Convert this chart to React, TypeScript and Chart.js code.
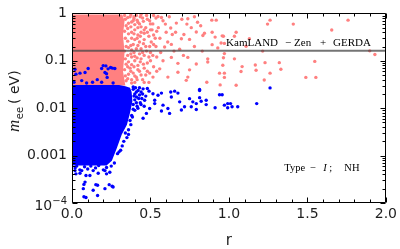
import React, { useEffect, useRef } from 'react';
import { Chart, registerables } from 'chart.js';

Chart.register(...registerables);

// ---------- axis ticks ----------
const xTickValues = [0, 0.5, 1.0, 1.5, 2.0];
const yTickValues = [1e-4, 1e-3, 1e-2, 1e-1, 1];
const yTickLabels = ['', '0.001', '0.01', '0.1', '1'];

// ---------- KamLAND-Zen + GERDA bound (eV) ----------
const kamlandZenGerdaLimit = 0.162;
const limitRangeR = [0, 2];

// ---------- dense pink cloud (outline of the solid region) ----------
const pinkDenseOutline: [number, number][] = [
  [0, 0.95], [0.32, 0.95], [0.335, 0.7], [0.325, 0.35], [0.335, 0.15],
  [0.325, 0.06], [0.34, 0.03], [0, 0.03],
];

// ---------- sparse pink points ----------
const pinkBand: [number, number][] = [
  [0.37, 0.85], [0.39, 0.7], [0.41, 0.9], [0.43, 0.6], [0.45, 0.8], [0.47, 0.5],
  [0.40, 0.45], [0.42, 0.35], [0.44, 0.4], [0.38, 0.3], [0.46, 0.28], [0.49, 0.33],
  [0.50, 0.6], [0.52, 0.9], [0.51, 0.45], [0.39, 0.22], [0.41, 0.18], [0.43, 0.25],
  [0.45, 0.15], [0.47, 0.2], [0.49, 0.12], [0.38, 0.12], [0.40, 0.1], [0.42, 0.08],
  [0.44, 0.11], [0.46, 0.07], [0.48, 0.09], [0.50, 0.15], [0.52, 0.22], [0.37, 0.07],
  [0.39, 0.055], [0.41, 0.045], [0.43, 0.06], [0.45, 0.04], [0.47, 0.05], [0.49, 0.035],
  [0.38, 0.04], [0.40, 0.035], [0.53, 0.3], [0.54, 0.12], [0.55, 0.5], [0.48, 0.75],
  [0.42, 0.65], [0.395, 0.85], [0.44, 0.95], [0.46, 0.38], [0.505, 0.25], [0.43, 0.14],
];
const pinkEdge: [number, number][] = [
  [0.335, 0.9], [0.34, 0.75], [0.345, 0.55], [0.335, 0.42], [0.34, 0.3], [0.345, 0.2],
  [0.335, 0.16], [0.34, 0.11], [0.345, 0.085], [0.335, 0.065], [0.34, 0.048], [0.345, 0.038],
  [0.355, 0.82], [0.36, 0.62], [0.355, 0.48], [0.36, 0.37], [0.355, 0.26], [0.36, 0.19],
  [0.355, 0.13], [0.36, 0.095], [0.355, 0.075], [0.36, 0.052], [0.355, 0.042],
  [0.375, 0.93], [0.38, 0.66], [0.375, 0.52], [0.38, 0.4], [0.375, 0.21], [0.38, 0.17],
  [0.375, 0.14], [0.38, 0.083], [0.375, 0.06], [0.38, 0.034],
  [0.395, 0.78], [0.40, 0.58], [0.395, 0.37], [0.40, 0.28], [0.395, 0.15], [0.40, 0.125],
  [0.395, 0.075], [0.40, 0.048],
  [0.415, 0.72], [0.42, 0.5], [0.415, 0.3], [0.42, 0.21], [0.415, 0.115], [0.42, 0.065], [0.415, 0.04],
  [0.435, 0.85], [0.44, 0.52], [0.435, 0.33], [0.44, 0.18], [0.435, 0.095], [0.44, 0.05],
  [0.455, 0.68], [0.46, 0.45], [0.455, 0.23], [0.46, 0.13], [0.455, 0.085], [0.46, 0.035],
  [0.475, 0.9], [0.48, 0.4], [0.475, 0.16], [0.48, 0.06],
  [0.495, 0.7], [0.50, 0.45], [0.495, 0.2], [0.50, 0.1], [0.495, 0.055],
  [0.515, 0.6], [0.52, 0.35], [0.515, 0.13], [0.52, 0.075],
  [0.535, 0.8], [0.54, 0.42], [0.535, 0.2], [0.54, 0.06],
  [0.56, 0.3], [0.565, 0.15], [0.58, 0.7], [0.60, 0.4], [0.61, 0.25], [0.62, 0.85],
  [0.65, 0.16], [0.66, 0.4], [0.70, 0.75], [0.71, 0.13], [0.76, 0.5], [0.78, 0.2],
  [0.80, 0.65], [0.82, 0.55], [0.78, 0.85],
];
const pinkMid: [number, number][] = [
  [0.548, 0.859], [0.570, 0.818], [0.595, 0.594], [0.629, 0.492], [0.665, 0.624],
  [0.732, 0.594], [0.738, 0.769], [0.639, 0.359], [0.713, 0.359], [0.697, 0.291],
  [0.749, 0.283], [0.792, 0.406], [0.590, 0.196], [0.633, 0.222], [0.686, 0.176],
  [0.738, 0.118], [0.633, 0.118], [0.580, 0.1005], [0.675, 0.0883], [0.749, 0.0645],
  [0.675, 0.0575], [0.611, 0.0453], [0.738, 0.0453], [0.792, 0.0859], [0.559, 0.0676],
  [0.516, 0.0453], [0.728, 0.0387],
];
const pinkFar: [number, number][] = [
  [0.891, 0.72], [0.919, 0.72], [1.262, 0.72], [1.246, 0.594], [1.410, 0.594],
  [1.759, 0.72], [1.655, 0.447], [0.834, 0.342], [0.844, 0.382], [0.893, 0.40],
  [0.912, 0.316], [0.957, 0.336], [0.965, 0.33], [1.046, 0.40], [1.035, 0.33],
  [1.130, 0.291], [0.893, 0.219], [0.929, 0.187], [0.950, 0.237], [0.971, 0.233],
  [1.109, 0.203], [1.215, 0.160], [0.830, 0.160], [1.897, 0.162], [1.930, 0.136],
  [0.865, 0.110], [0.865, 0.0945], [0.971, 0.142], [0.965, 0.116], [0.961, 0.0803],
  [1.035, 0.110], [1.084, 0.0755], [1.077, 0.0595], [1.168, 0.0818], [1.173, 0.0633],
  [1.230, 0.0914], [1.321, 0.0914], [1.331, 0.0664], [1.547, 0.0972], [0.940, 0.0549],
  [0.971, 0.0549], [0.971, 0.0447], [1.262, 0.0549], [1.490, 0.0447], [1.554, 0.0447],
  [0.859, 0.0352], [0.944, 0.031], [1.046, 0.0305], [1.225, 0.0393],
];

// ---------- dense blue cloud (outline of the solid region) ----------
const blueDenseOutline: [number, number][] = [
  [0, 0.031], [0.30, 0.031], [0.34, 0.029], [0.37, 0.027], [0.38, 0.022],
  [0.385, 0.014], [0.37, 0.008], [0.35, 0.0045], [0.317, 0.0028], [0.286, 0.00144],
  [0.254, 0.00078], [0.22, 0.00062], [0, 0.00062],
];

// ---------- sparse blue points ----------
const blueAbove: [number, number][] = [
  [0.019, 0.0664], [0.051, 0.0549], [0.025, 0.0523], [0.013, 0.0352], [0.083, 0.0567],
  [0.103, 0.0686], [0.189, 0.0686], [0.216, 0.078], [0.246, 0.072], [0.273, 0.0686],
  [0.210, 0.0567], [0.224, 0.0447], [0.189, 0.0352], [0.131, 0.0352], [0.161, 0.040],
  [0.093, 0.034], [0.062, 0.0382], [0.199, 0.0792], [0.230, 0.0676], [0.258, 0.070],
  [0.220, 0.0533], [0.262, 0.034],
];
const blueRight: [number, number][] = [
  [0.421, 0.0237], [0.453, 0.0256], [0.491, 0.0229], [0.516, 0.0202], [0.570, 0.0208],
  [0.548, 0.0187], [0.629, 0.0219], [0.654, 0.0229], [0.675, 0.0208], [0.633, 0.0172],
  [0.686, 0.0136], [0.749, 0.0159], [0.770, 0.0136], [0.792, 0.0125], [0.717, 0.0107],
  [0.697, 0.00914], [0.611, 0.00986], [0.622, 0.00777], [0.570, 0.0087], [0.580, 0.0116],
  [0.527, 0.0125], [0.495, 0.00986], [0.474, 0.00777], [0.453, 0.00612], [0.527, 0.0147],
  [0.463, 0.0147], [0.411, 0.0172], [0.792, 0.0094], [0.760, 0.0107], [0.813, 0.0237],
  [0.39, 0.025], [0.40, 0.02], [0.39, 0.012], [0.40, 0.009], [0.38, 0.007],
  [0.37, 0.0055], [0.36, 0.0035], [0.34, 0.003], [0.33, 0.002], [0.31, 0.0013],
  [0.29, 0.0011], [0.41, 0.013], [0.43, 0.019], [0.42, 0.01], [0.44, 0.012],
  [0.39, 0.028], [0.395, 0.018], [0.405, 0.027], [0.41, 0.022], [0.40, 0.015],
  [0.415, 0.011], [0.425, 0.016], [0.43, 0.027], [0.44, 0.022], [0.445, 0.016],
  [0.45, 0.02], [0.435, 0.013], [0.39, 0.0095], [0.385, 0.0065], [0.375, 0.0045],
  [0.36, 0.0028], [0.35, 0.0024], [0.32, 0.0016], [0.30, 0.0012], [0.47, 0.018],
  [0.48, 0.026], [0.46, 0.011],
];
const blueFar: [number, number][] = [
  [0.813, 0.0248], [1.262, 0.0268], [0.813, 0.0167], [0.823, 0.014], [0.855, 0.0147],
  [0.855, 0.0119], [0.940, 0.0192], [0.957, 0.0192], [0.912, 0.0102], [0.971, 0.0116],
  [0.992, 0.0125], [1.010, 0.0125], [0.992, 0.0102], [1.020, 0.0107], [1.056, 0.0107],
  [1.177, 0.0125],
];
const blueBelow: [number, number][] = [
  [0.083, 0.000276], [0.076, 0.000247], [0.072, 0.000201], [0.135, 0.000186],
  [0.163, 0.000236], [0.210, 0.000201], [0.237, 0.000244], [0.256, 0.000225],
  [0.076, 0.000135], [0.089, 0.000131], [0.163, 0.000144], [0.025, 0.000412],
  [0.051, 0.000424], [0.089, 0.00038], [0.114, 0.00038], [0.167, 0.000424],
  [0.220, 0.000412], [0.241, 0.000445], [0.210, 0.000482], [0.135, 0.000482],
  [0.062, 0.000482], [0.019, 0.000482], [0.152, 0.000244], [0.262, 0.000218],
  [0.02, 0.00055], [0.05, 0.0005], [0.1, 0.00052], [0.15, 0.00055], [0.2, 0.0005],
  [0.25, 0.0006], [0.03, 0.0006], [0.08, 0.00058], [0.12, 0.0006], [0.17, 0.00062],
  [0.22, 0.00056], [0.27, 0.0007],
];

const toXY = (arr: [number, number][]) => arr.map(([x, y]) => ({ x, y }));

const PINK = 'rgb(255,128,128)';
const BLUE = 'rgb(0,0,255)';
const TEXT = '#1e1e1e';

const framePlugin = {
  id: 'frameAndLabels',
  afterDatasetsDraw(chart: any) {
    const { ctx, scales } = chart;
    const xs = scales.x;
    const ys = scales.y;
    ctx.save();
    ctx.fillStyle = '#000';
    ctx.textBaseline = 'alphabetic';
    const lx = xs.getPixelForValue(0.982);
    const ly = ys.getPixelForValue(kamlandZenGerdaLimit) - 5;
    ctx.font = '11px "Liberation Serif"';
    ctx.fillText('KamLAND', lx, ly);
    ctx.fillText('\u2212', lx + 59, ly);
    ctx.fillText('Zen', lx + 68, ly);
    ctx.fillText('+', lx + 94, ly);
    ctx.fillText('GERDA', lx + 107, ly);
    const tx = xs.getPixelForValue(1.353);
    const ty = ys.getPixelForValue(1e-4) - 32;
    ctx.font = '10.5px "Liberation Serif"';
    ctx.fillText('Type', tx, ty);
    ctx.fillText('\u2212', tx + 26, ty);
    ctx.font = 'italic 10.5px "Liberation Serif"';
    ctx.fillText('I', tx + 39, ty);
    ctx.font = '10.5px "Liberation Serif"';
    ctx.fillText(';', tx + 45, ty);
    ctx.fillText('NH', tx + 60, ty);
    ctx.restore();
  },
  afterDraw(chart: any) {
    const { ctx, chartArea: a, scales } = chart;
    const xs = scales.x;
    const ys = scales.y;
    const L = Math.round(a.left) + 0.5;
    const R = Math.round(a.right) - 0.5;
    const T = Math.round(a.top) + 0.5;
    const B = Math.round(a.bottom) - 0.5;
    ctx.save();
    ctx.strokeStyle = '#000';
    ctx.lineWidth = 1;
    ctx.beginPath();
    ctx.rect(L, T, R - L, B - T);
    for (let i = 0; i <= 20; i++) {
      const px = Math.round(xs.getPixelForValue(i / 10)) + 0.5;
      const len = i % 5 === 0 ? 5 : 3;
      ctx.moveTo(px, B); ctx.lineTo(px, B - len);
      ctx.moveTo(px, T); ctx.lineTo(px, T + len);
    }
    for (let e = -4; e <= 0; e++) {
      for (let k = 1; k <= 9; k++) {
        const v = k * Math.pow(10, e);
        if (v > 1.0001) break;
        const py = Math.round(ys.getPixelForValue(v)) + 0.5;
        const len = k === 1 ? 5 : 3;
        ctx.moveTo(L, py); ctx.lineTo(L + len, py);
        ctx.moveTo(R, py); ctx.lineTo(R - len, py);
      }
    }
    ctx.stroke();

    ctx.fillStyle = TEXT;
    ctx.textBaseline = 'alphabetic';
    const yp = ys.getPixelForValue(1e-4);
    const rightEdge = a.left - 5;
    ctx.font = '10px "DejaVu Sans"';
    const w2 = ctx.measureText('\u22124').width;
    ctx.fillText('\u22124', rightEdge - w2, yp + 1);
    ctx.font = '14px "DejaVu Sans"';
    const w1 = ctx.measureText('10').width;
    ctx.fillText('10', rightEdge - w2 - w1, yp + 7);

    ctx.font = '15px "DejaVu Sans"';
    ctx.textAlign = 'center';
    ctx.fillText('r', (a.left + a.right) / 2, 245);

    ctx.textAlign = 'left';
    ctx.translate(19, 132);
    ctx.rotate(-Math.PI / 2);
    ctx.font = 'italic 17px "Liberation Serif"';
    ctx.fillText('m', 0, 0);
    let w = ctx.measureText('m').width + 0.5;
    ctx.font = '10px "DejaVu Sans"';
    ctx.fillText('ee', w, 4);
    w += ctx.measureText('ee').width + 3;
    ctx.font = '14px "DejaVu Sans"';
    ctx.fillText('( eV)', w, 0);
    ctx.restore();
  },
};

export default function App() {
  const ref = useRef<HTMLCanvasElement>(null);
  useEffect(() => {
    const canvas = ref.current;
    if (!canvas) return;
    const pointDs = (label: string, data: [number, number][], color: string, order: number) => ({
      label,
      data: toXY(data),
      showLine: false,
      pointRadius: 1.7,
      pointBorderWidth: 0,
      pointBackgroundColor: color,
      pointBorderColor: color,
      backgroundColor: color,
      borderColor: color,
      order,
    });
    const chart = new Chart(canvas, {
      type: 'line',
      data: {
        datasets: [
          {
            label: 'pinkDense',
            data: toXY(pinkDenseOutline),
            showLine: true,
            borderWidth: 0,
            borderColor: 'rgba(0,0,0,0)',
            backgroundColor: PINK,
            fill: 'shape',
            pointRadius: 0,
            tension: 0,
            order: 10,
          } as any,
          pointDs('pinkBand', pinkBand, PINK, 9),
          pointDs('pinkEdge', pinkEdge, PINK, 9),
          pointDs('pinkMid', pinkMid, PINK, 9),
          pointDs('pinkFar', pinkFar, PINK, 9),
          {
            label: 'blueDense',
            data: toXY(blueDenseOutline),
            showLine: true,
            borderWidth: 0,
            borderColor: 'rgba(0,0,0,0)',
            backgroundColor: BLUE,
            fill: 'shape',
            pointRadius: 0,
            tension: 0,
            order: 5,
          } as any,
          pointDs('blueAbove', blueAbove, BLUE, 4),
          pointDs('blueRight', blueRight, BLUE, 4),
          pointDs('blueFar', blueFar, BLUE, 4),
          pointDs('blueBelow', blueBelow, BLUE, 4),
          {
            label: 'limit',
            data: limitRangeR.map((x) => ({ x, y: kamlandZenGerdaLimit })),
            showLine: true,
            borderColor: 'rgba(70,70,70,0.75)',
            borderWidth: 2,
            pointRadius: 0,
            fill: false,
            order: 1,
          } as any,
        ],
      },
      options: {
        animation: false,
        responsive: false,
        devicePixelRatio: 1,
        layout: { padding: { left: 0, right: 13, top: 10, bottom: 0 } },
        plugins: { legend: { display: false }, tooltip: { enabled: false } },
        scales: {
          x: {
            type: 'linear',
            min: 0,
            max: 2,
            afterBuildTicks: (s: any) => { s.ticks = xTickValues.map((v) => ({ value: v })); },
            afterFit: (s: any) => { s.height = 46; },
            ticks: {
              callback: (v: any) => Number(v).toFixed(1),
              font: { family: 'DejaVu Sans', size: 14 },
              color: TEXT,
              padding: 3,
              maxRotation: 0,
              autoSkip: false,
            },
            grid: { display: false, drawTicks: false },
            border: { display: false },
          },
          y: {
            type: 'logarithmic',
            min: 1e-4,
            max: 1,
            afterBuildTicks: (s: any) => { s.ticks = yTickValues.map((v) => ({ value: v })); },
            afterFit: (s: any) => { s.width = 72; },
            ticks: {
              callback: (_v: any, i: number) => yTickLabels[i],
              font: { family: 'DejaVu Sans', size: 14 },
              color: TEXT,
              padding: 5,
              autoSkip: false,
            },
            grid: { display: false, drawTicks: false },
            border: { display: false },
          },
        },
      } as any,
      plugins: [framePlugin],
    });
    return () => chart.destroy();
  }, []);
  return (
    <div style={{ position: 'fixed', left: 0, top: 0, width: 400, height: 249, background: '#fff' }}>
      <canvas ref={ref} width={400} height={249} style={{ display: 'block', width: 400, height: 249 }} />
    </div>
  );
}
